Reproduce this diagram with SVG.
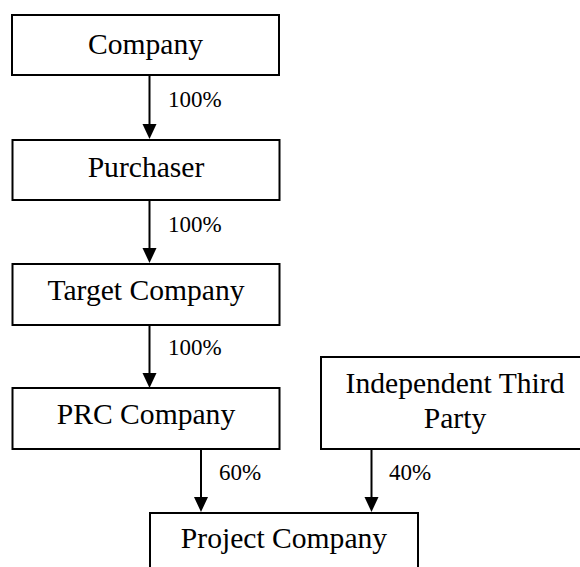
<svg xmlns="http://www.w3.org/2000/svg" width="580" height="567" viewBox="0 0 580 567">
<defs>
<style>
.box{fill:#fff;stroke:#000;stroke-width:2}
.t{font-family:"Liberation Serif","Times New Roman",serif;font-size:29.6px;fill:#000;text-anchor:middle}
.l{font-family:"Liberation Serif","Times New Roman",serif;font-size:23px;fill:#000}
.c{stroke:#000;stroke-width:2;fill:none}
</style>
</defs>
<rect width="580" height="567" fill="#fff"/>
<g id="connectors">
<line class="c" x1="149.5" y1="75" x2="149.5" y2="124" />
<path d="M142.5,124 L156.5,124 L149.5,139 Z" fill="#000"/>
<line class="c" x1="149.5" y1="200" x2="149.5" y2="248" />
<path d="M142.5,248 L156.5,248 L149.5,263 Z" fill="#000"/>
<line class="c" x1="149.5" y1="325" x2="149.5" y2="373" />
<path d="M142.5,373 L156.5,373 L149.5,388 Z" fill="#000"/>
<line class="c" x1="201" y1="449" x2="201" y2="497" />
<path d="M194,497 L208,497 L201,512 Z" fill="#000"/>
<line class="c" x1="371.5" y1="449" x2="371.5" y2="497" />
<path d="M364.5,497 L378.5,497 L371.5,512 Z" fill="#000"/>
<text class="l" x="168" y="107">100%</text>
<text class="l" x="168" y="232">100%</text>
<text class="l" x="168" y="355">100%</text>
<text class="l" x="219" y="480">60%</text>
<text class="l" x="389" y="480">40%</text>
</g>
<g id="company">
<rect class="box" x="12" y="15" width="267" height="60"/>
<text class="t" x="145.5" y="54">Company</text>
</g>
<g id="purchaser">
<rect class="box" x="12.5" y="140" width="267" height="60"/>
<text class="t" x="146" y="177">Purchaser</text>
</g>
<g id="target">
<rect class="box" x="12.5" y="264" width="267" height="61"/>
<text class="t" x="146" y="300">Target Company</text>
</g>
<g id="prc">
<rect class="box" x="12.5" y="388" width="267" height="61"/>
<text class="t" x="146" y="424">PRC Company</text>
</g>
<g id="independent">
<rect class="box" x="321" y="357" width="270" height="92"/>
<text class="t" x="455" y="393">Independent Third</text>
<text class="t" x="455" y="428">Party</text>
</g>
<g id="project">
<rect class="box" x="150" y="513" width="268" height="70"/>
<text class="t" x="284" y="548">Project Company</text>
</g>
</svg>
